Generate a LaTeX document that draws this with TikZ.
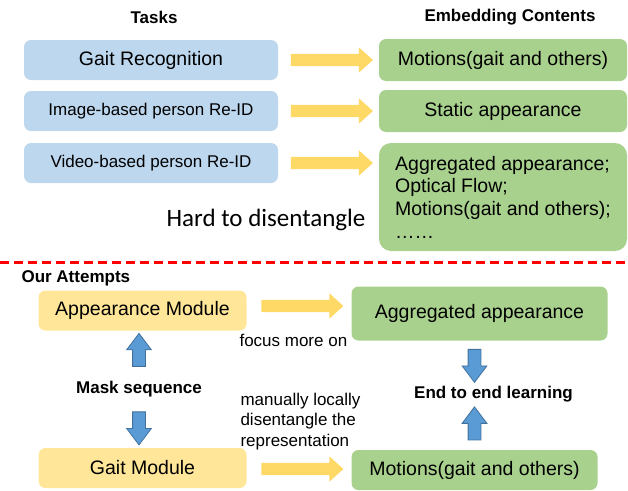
\documentclass[tikz,border=0pt]{standalone}
\usepackage{fontspec}
\setmainfont{Liberation Sans}
\newfontfamily\calibrifont{Carlito}
\usepackage{tikz}
\usetikzlibrary{positioning}
\usetikzlibrary{shapes,shapes.arrows}
\definecolor{taskblue}{HTML}{BDD7EE}
\definecolor{contgreen}{HTML}{A9D18E}
\definecolor{modyellow}{HTML}{FFE699}
\definecolor{arryellow}{HTML}{FFD966}
\definecolor{arrblue}{HTML}{5B9BD5}
\definecolor{arrblueline}{HTML}{41719C}
\newcommand{\bigtext}{\fontsize{19.5}{22.7}\selectfont}
\newcommand{\smalltext}{\fontsize{17}{20.5}\selectfont}
\tikzstyle{novertex} = [draw=none, fill=none, text centered]
\tikzstyle{header}   = [draw=none, fill=none, text centered, font=\bfseries\fontsize{17}{20}\selectfont]
\tikzstyle{task}     = [rectangle, fill=taskblue, rounded corners=7pt, minimum width=254pt, minimum height=40pt, text centered, font=\smalltext]
\tikzstyle{content}  = [rectangle, fill=contgreen, rounded corners=7pt, minimum width=248pt, minimum height=42pt, text centered, font=\bigtext]
\tikzstyle{module}   = [rectangle, fill=modyellow, rounded corners=7pt, minimum width=208pt, minimum height=40pt, text centered, font=\bigtext]
\tikzstyle{yarrow}   = [single arrow, fill=arryellow, minimum height=82pt, inner sep=6pt, single arrow head extend=6.5pt, single arrow tip angle=84, single arrow head indent=0pt]
\tikzstyle{barrow}   = [single arrow, fill=arrblue, draw=arrblueline, line width=0.8pt, minimum height=33pt, inner sep=6pt, single arrow head extend=6pt, single arrow tip angle=74, single arrow head indent=0pt]
\tikzstyle{sepline}  = [draw=red, line width=3pt, dash pattern=on 9pt off 5pt]

\begin{document}
\begin{tikzpicture}[x=1pt, y=-1pt]
	\useasboundingbox (0,0) rectangle (628,490);

	% column titles
	\node [header] (H1) at (154,17) {Tasks};
	\node [header] (H2) at (510,17) {Embedding Contents};

	% place task nodes
	\node [task, font=\bigtext] (T1) at (151,60) {Gait Recognition};
	\node [task, below of=T1, node distance=51pt] (T2) {Image-based person Re-ID};
	\node [task, below of=T2, node distance=52pt] (T3) {Video-based person Re-ID};

	% place content nodes
	\node [content, right of=T1, node distance=352pt] (E1) {Motions(gait and others)};
	\node [content, right of=T2, node distance=352pt] (E2) {Static appearance};
	\node [content, below of=E2, node distance=86pt, minimum height=108pt, align=left, rounded corners=12pt] (E3)
		{Aggregated appearance;\\Optical Flow;\\Motions(gait and others);\\……};
	\node [novertex, font=\calibrifont\fontsize{25}{30}\selectfont] (H3) at (266,220) {Hard to disentangle};

	% draw task arrows
	\path (T1.east) -- (E1.west) node [yarrow, midway] (A1) {};
	\path (T2.east) -- (E2.west) node [yarrow, midway] (A2) {};
	\path (T3.east) -- (E3.west |- T3.east) node [yarrow, midway] (A3) {};

	% separator
	\draw [sepline] (0,262) -- (628,262);

	% our attempts
	\node [header, anchor=west] (H4) at (18,278) {Our Attempts};
	\node [module] (M1) at (142.5,310.5) {Appearance Module};
	\node [module, below of=M1, node distance=157.5pt] (M2) {Gait Module};
	\node [content, minimum width=256pt, minimum height=54pt] (E4) at (479.5,313.5) {Aggregated appearance};
	\node [content, minimum width=246pt, minimum height=40pt] (E5) at (474.5,470) {Motions(gait and others)};

	\node [header] (L1) at (139,389) {Mask sequence};
	\node [header] (L2) at (493.5,394) {End to end learning};
	\node [novertex, anchor=west, font=\smalltext] (L3) at (236,340) {focus more on};
	\node [novertex, anchor=west, align=left, font=\smalltext] (L4) at (237,421.5)
		{manually locally\\disentangle the\\representation};

	% draw module arrows
	\path (M1.east) -- (E4.west) node [yarrow, midway, yshift=6pt] (A4) {};
	\path (M2.east) -- (E5.west) node [yarrow, midway] (A5) {};
	\path (M1.south -| L1.north) -- (L1.north) node [barrow, midway, shape border rotate=90] (B1) {};
	\path (L1.south) -- (L1.south |- M2.north) node [barrow, midway, shape border rotate=270] (B2) {};
	\path (E4.south -| E5.north) -- (L2.north -| E5.north) node [barrow, midway, shape border rotate=270] (B3) {};
	\path (L2.south -| E5.north) -- (E5.north) node [barrow, midway, shape border rotate=90] (B4) {};
\end{tikzpicture}
\end{document}
